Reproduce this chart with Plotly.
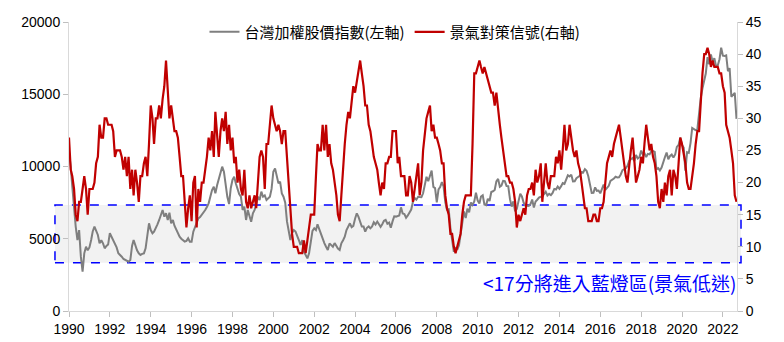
import pandas as pd
import plotly.graph_objects as go

start = "1990-01-01"

# 台灣加權股價指數 (monthly, left axis)
taiex = [
    11000, 9990, 8600, 7000, 5840, 4910, 5600, 3760, 2720, 3990, 4450, 4200,
    4400, 4910, 5500, 5840, 5600, 5260, 4680, 4900, 4680, 4340, 4500, 4600,
    5380, 5100, 4910, 4680, 4400, 3990, 3900, 3760, 3600, 3530, 3450, 3410,
    3530, 4500, 4910, 4450, 4200, 3990, 3880, 3950, 3990, 4340, 5200, 6070,
    5600, 5380, 5490, 5700, 6000, 6300, 6640, 6990, 6530, 6760, 6300, 6800,
    6070, 6300, 5900, 5600, 5400, 5140, 5000, 4910, 4800, 4850, 5030, 4800,
    4800, 5490, 5800, 6180, 6410, 6500, 6640, 6800, 6990, 7200, 7450, 7910,
    8370, 8600, 8140, 8700, 9070, 9500, 9990, 9640, 8700, 7900, 7400, 8500,
    9070, 9300, 8840, 8370, 8100, 7910, 6990, 7220, 6300, 6990, 6500, 6180,
    6760, 6990, 7400, 7910, 7680, 8260, 7910, 8000, 7680, 7800, 7910, 8450,
    9640, 9870, 9410, 8840, 8950, 8140, 7910, 7500, 6200, 5500, 4910, 5400,
    5600, 5500, 5140, 4910, 4570, 4910, 4110, 3900, 3640, 3990, 4900, 5550,
    5720, 5600, 6000, 5650, 5380, 4910, 4700, 4450, 4220, 4680, 4570, 4450,
    4700, 4450, 4320, 4220, 4680, 4900, 5140, 5600, 5800, 6070, 5800, 5890,
    6380, 6760, 6530, 6180, 5840, 5840, 5490, 5760, 5850, 5720, 5850, 6140,
    5990, 6190, 6010, 5820, 6010, 6240, 6310, 6040, 6120, 5760, 6200, 6550,
    6532, 6561, 6613, 7171, 6747, 6704, 6455, 6611, 6883, 7021, 7567, 7823,
    7700, 7902, 7884, 7875, 8145, 8883, 9287, 8982, 9411, 9711, 8586, 8506,
    7521, 8413, 8572, 8920, 8620, 7524, 7024, 7046, 5720, 4700, 4100, 4400,
    4248, 4557, 5211, 5992, 6890, 6432, 7078, 6826, 7509, 7340, 7582, 8188,
    7640, 7436, 7920, 8004, 7374, 7329, 7760, 7616, 8238, 8287, 8372, 8972,
    9145, 8600, 8683, 9007, 8988, 8653, 8644, 7741, 7225, 7588, 6904, 7072,
    7517, 8121, 7933, 7501, 7301, 7296, 7270, 7397, 7715, 7166, 7580, 7700,
    7850, 7907, 7919, 8094, 8255, 7996, 8107, 8022, 8174, 8450, 8407, 8612,
    8463, 8640, 8849, 8792, 9076, 9393, 9315, 9436, 8967, 8974, 9187, 9307,
    9362, 9622, 9586, 9820, 9701, 9323, 8665, 8174, 8181, 8554, 8320, 8338,
    8145, 8411, 8745, 8377, 8535, 8667, 9007, 9069, 9167, 9290, 9240, 9254,
    9448, 9750, 9812, 9872, 10041, 10395, 10503, 10586, 10384, 10794, 10560, 10643,
    11104, 10815, 10919, 10657, 10875, 10837, 11057, 11064, 11006, 9802, 9888, 9727,
    9932, 10389, 10641, 10968, 10499, 10731, 10824, 10618, 10830, 11358, 11490, 11997,
    11495, 11292, 9708, 10992, 10942, 11621, 12664, 12592, 12516, 12546, 13722, 14733,
    15410, 15953, 16431, 17567, 17068, 17755, 17247, 17490, 16935, 16987, 17428, 18219,
    17674, 17652, 17693, 16592, 16807, 14826, 15000, 15095, 13300,
]

# 景氣對策信號 (monthly score, right axis)
signal = [
    27, 22, 21, 19, 15, 14, 17, 17, 19, 21, 19, 15,
    19, 19, 19, 20, 23, 24, 29, 27, 27, 30, 30, 29,
    29, 29, 28, 24, 25, 25, 25, 24, 22, 24, 21, 24,
    19, 22, 18, 22, 20, 17, 21, 21, 23, 24, 21, 26,
    32, 30, 26, 30, 30, 32, 30, 33, 35, 39, 35, 30,
    32, 30, 28, 28, 27, 24, 21, 21, 17, 13, 16, 18,
    14, 20, 21, 13, 19, 17, 20, 20, 22, 24, 27, 25,
    28, 24, 31, 27, 24, 28, 30, 28, 31, 26, 29, 25,
    27, 23, 24, 20, 22, 19, 18, 22, 17, 16, 18, 16,
    17, 18, 16, 20, 24, 25, 24, 19, 26, 26, 29, 32,
    30, 29, 28, 29, 28, 26, 28, 28, 24, 20, 16, 12,
    10, 10, 10, 9, 9, 9, 11, 9, 11, 13, 15, 15,
    15, 21, 26, 25, 25, 29, 25, 29, 24, 26, 23, 22,
    20, 18, 15, 14, 18, 23, 26, 29, 31, 30, 33, 35,
    34, 36, 37, 39, 37, 35, 32, 32, 29, 28, 26, 24,
    23, 22, 20, 18, 20, 19, 23, 23, 24, 24, 28, 28,
    28, 23, 24, 21, 21, 21, 18, 18, 21, 20, 17, 19,
    21, 23, 18, 20, 25, 28, 30, 31, 32, 28, 29, 27,
    27, 26, 25, 23, 23, 18, 16, 15, 12, 12, 10, 9,
    10, 11, 12, 15, 17, 18, 18, 18, 18, 26, 37, 37,
    38, 39, 38, 37, 38, 37, 36, 35, 34, 34, 32, 34,
    31, 29, 27, 25, 23, 21, 21, 20, 20, 19, 17, 13,
    15, 14, 15, 16, 15, 18, 19, 19, 20, 18, 22, 20,
    21, 23, 17, 20, 23, 20, 19, 21, 21, 21, 24, 23,
    25, 22, 25, 29, 25, 26, 29, 27, 25, 24, 25, 23,
    22, 20, 18, 16, 16, 14, 14, 14, 15, 15, 14, 14,
    16, 16, 17, 20, 23, 24, 25, 24, 26, 27, 28, 29,
    27, 25, 23, 21, 20, 23, 25, 27, 24, 20, 21, 22,
    24, 23, 26, 29, 27, 25, 26, 24, 23, 21, 17, 16,
    19, 17, 20, 18, 21, 22, 18, 22, 21, 19, 23, 27,
    26, 24, 23, 20, 19, 19, 21, 23, 26, 28, 28, 33,
    37, 40, 40, 41, 40, 38, 39, 38, 38, 38, 37, 37,
    35, 34, 29, 28, 27, 25, 23, 18, 17,
]

year_ticks = list(range(1990, 2023, 2))
blue_low, blue_high = 7.5, 16.5   # 藍燈區 band on right axis
note = "<17分將進入藍燈區(景氣低迷)"

dates = pd.date_range(start, periods=len(taiex), freq="MS")

num_font = "Liberation Sans, Arial, sans-serif"
cjk_font = "Noto Sans CJK TC, Liberation Sans, sans-serif"

fig = go.Figure()
fig.add_trace(go.Scatter(
    x=dates, y=taiex, name="台灣加權股價指數(左軸)", mode="lines",
    line=dict(color="#7f7f7f", width=2), yaxis="y"))
fig.add_trace(go.Scatter(
    x=dates, y=signal, name="景氣對策信號(右軸)", mode="lines",
    line=dict(color="#c00000", width=2.2), yaxis="y2"))

y2max = 45
fig.add_shape(type="rect", xref="paper", yref="paper",
              x0=-0.021, x1=1.006,
              y0=blue_low / y2max, y1=blue_high / y2max,
              fillcolor="#f2f2f2", layer="below",
              line=dict(color="#0000ff", width=1.5, dash="dash"))

fig.add_annotation(text=note, xref="paper", yref="paper",
                   x=1.002, y=0.097, xanchor="right", yanchor="middle",
                   showarrow=False,
                   font=dict(family=cjk_font, size=19, color="#0000ff"))

axis_common = dict(showgrid=False, zeroline=False, showline=True,
                   linecolor="#d9d9d9", linewidth=1, automargin=False,
                   ticks="outside", tickcolor="#bfbfbf", ticklen=5,
                   tickfont=dict(family=num_font, size=14, color="#000000"))

fig.update_layout(
    width=784, height=342,
    margin=dict(l=69, r=47, t=22, b=31, autoexpand=False),
    paper_bgcolor="white", plot_bgcolor="white",
    showlegend=True,
    legend=dict(orientation="h", x=0.488, xanchor="center", y=0.965,
                yanchor="middle", bgcolor="rgba(0,0,0,0)",
                font=dict(family=cjk_font, size=15, color="#000000"),
                itemwidth=30, tracegroupgap=0),
    xaxis=dict(axis_common, type="date",
               range=["1990-01-01", "2022-09-10"],
               tickvals=[pd.Timestamp(f"{y}-01-01") for y in year_ticks],
               ticktext=[str(y) for y in year_ticks]),
    yaxis=dict(axis_common, range=[0, 20000], dtick=5000, tickformat="d"),
    yaxis2=dict(axis_common, range=[0, y2max], dtick=5, tickformat="d",
                overlaying="y", side="right"),
)

fig.write_html("out.html")
